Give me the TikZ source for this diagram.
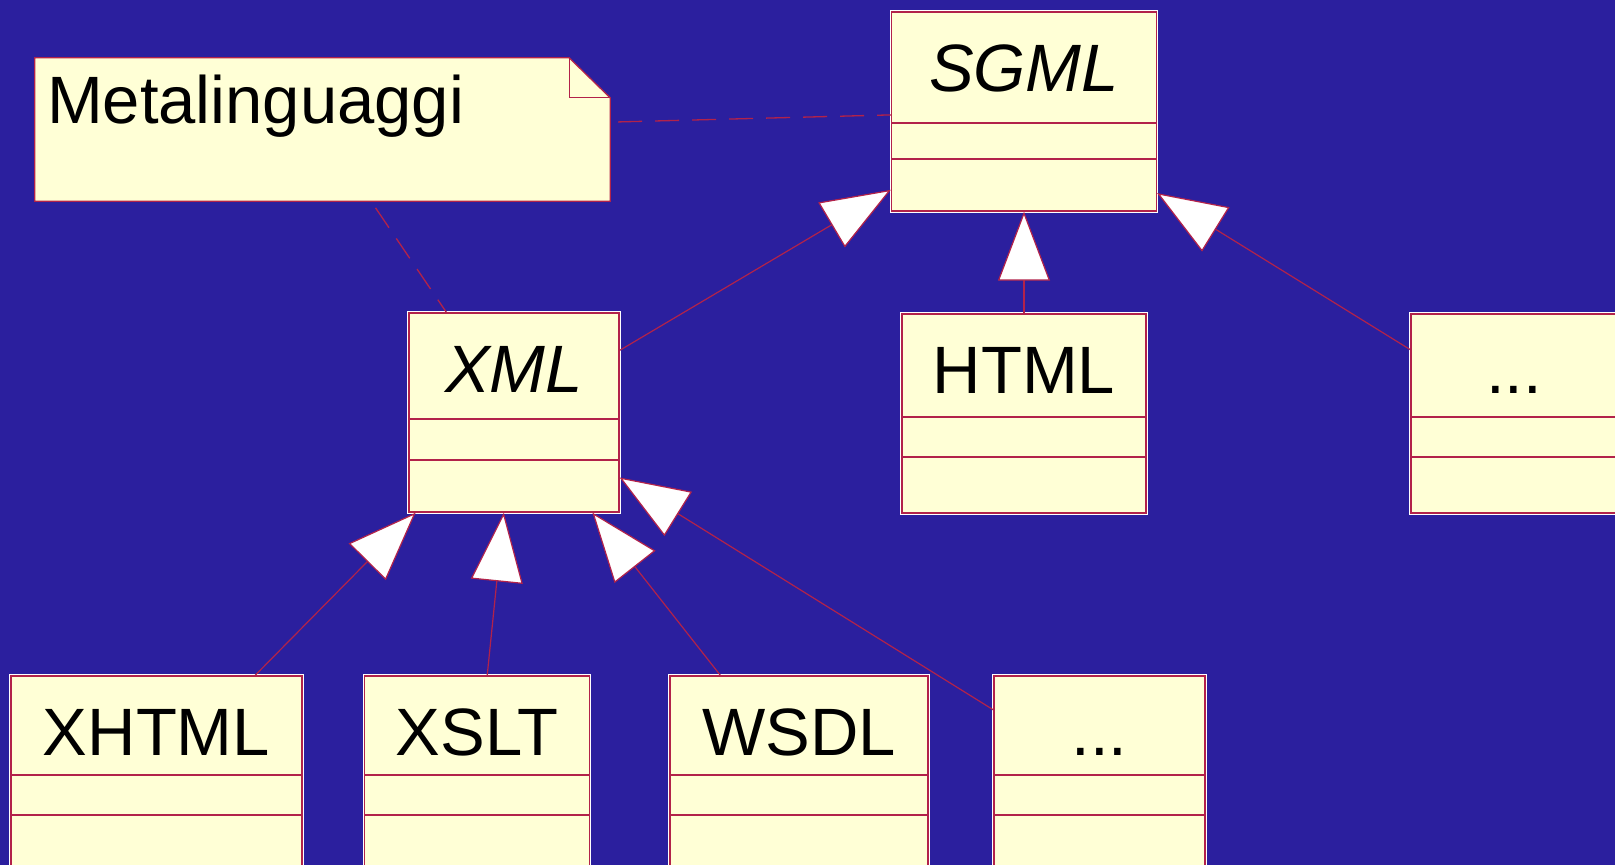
\documentclass[tikz,border=0pt]{standalone}
\usepackage{fontspec}
\setmainfont{Liberation Sans}
\usetikzlibrary{arrows.meta}

\definecolor{slideblue}{RGB}{43,31,158}
\definecolor{classfill}{RGB}{255,255,214}
\definecolor{umlred}{RGB}{178,34,74}

\begin{document}
\begin{tikzpicture}[
    x=1pt, y=-1pt,
    classbox/.style={rectangle, draw=umlred, line width=1.3pt, fill=classfill,
        preaction={draw=white, line width=3.5pt},
        minimum height=199pt, inner sep=0pt, text height=48pt, text depth=89pt,
        font=\fontsize{67}{80}\selectfont},
    abstract/.style={font=\fontsize{67}{80}\selectfont\itshape},
    divs/.style 2 args={path picture={
        \draw[umlred, line width=1.1pt] ([yshift=-#1pt]path picture bounding box.north west) -- ([yshift=-#1pt]path picture bounding box.north east);
        \draw[umlred, line width=1.1pt] ([yshift=-#2pt]path picture bounding box.north west) -- ([yshift=-#2pt]path picture bounding box.north east);}},
    notebox/.style={rectangle, minimum width=575pt, minimum height=143pt, inner sep=0pt},
    noteline/.style={draw=umlred, line width=1.3pt},
    notetext/.style={anchor=north west, inner xsep=12pt, inner ysep=17.6pt, text height=48pt,
        font=\fontsize{67}{80}\selectfont},
    gen/.style={draw=umlred, line width=1.2pt, -{Triangle[length=69pt, width=52pt, fill=white]}},
    notelink/.style={draw=umlred, line width=1.3pt, dash pattern=on 24pt off 13pt, shorten <=8pt}
]
    \useasboundingbox (0,0) rectangle (1615,865);
    \fill[slideblue] (0,0) rectangle (1615,865);
    \clip (0,0) rectangle (1615,865);

    % Classes
    \node[classbox, abstract, divs={111}{147}, minimum width=265pt] (sgml) at (1024,111.5) {SGML};
    \node[classbox, abstract, divs={106}{147}, minimum width=210pt] (xml) at (514,412.5) {XML};
    \node[classbox, divs={103}{143}, minimum width=244pt] (html) at (1024,413.5) {HTML};
    \node[classbox, divs={103}{143}, minimum width=206pt] (sgmlmore) at (1514,413.5) {...};
    \node[classbox, divs={99}{139}, minimum width=291pt] (xhtml) at (156.5,775.5) {XHTML};
    \node[classbox, divs={99}{139}, minimum width=225pt] (xslt) at (477,775.5) {XSLT};
    \node[classbox, divs={99}{139}, minimum width=258pt] (wsdl) at (799,775.5) {WSDL};
    \node[classbox, divs={99}{139}, minimum width=211pt] (xmlmore) at (1099.5,775.5) {...};

    % Note
    \node[notebox] (note) at (322.5,129.5) {};
    \draw[noteline, fill=classfill] (note.north west) -- ([xshift=-41pt]note.north east)
        -- ([yshift=-40pt]note.north east) -- (note.south east) -- (note.south west) -- cycle;
    \draw[noteline] ([xshift=-41pt]note.north east) |- ([yshift=-40pt]note.north east);
    \node[notetext] (notetitle) at (note.north west) {Metalinguaggi};

    % Generalizations
    \draw[gen] (xml) -- (sgml);
    \draw[gen] (html) -- (sgml);
    \draw[gen] (sgmlmore) -- (sgml);
    \draw[gen] (xhtml) -- (xml);
    \draw[gen] (xslt) -- (xml);
    \draw[gen] (wsdl) -- (xml);
    \draw[gen] (xmlmore) -- (xml);

    % Note links
    \draw[notelink] (note) -- (sgml);
    \draw[notelink] (note) -- (xml);
\end{tikzpicture}
\end{document}
